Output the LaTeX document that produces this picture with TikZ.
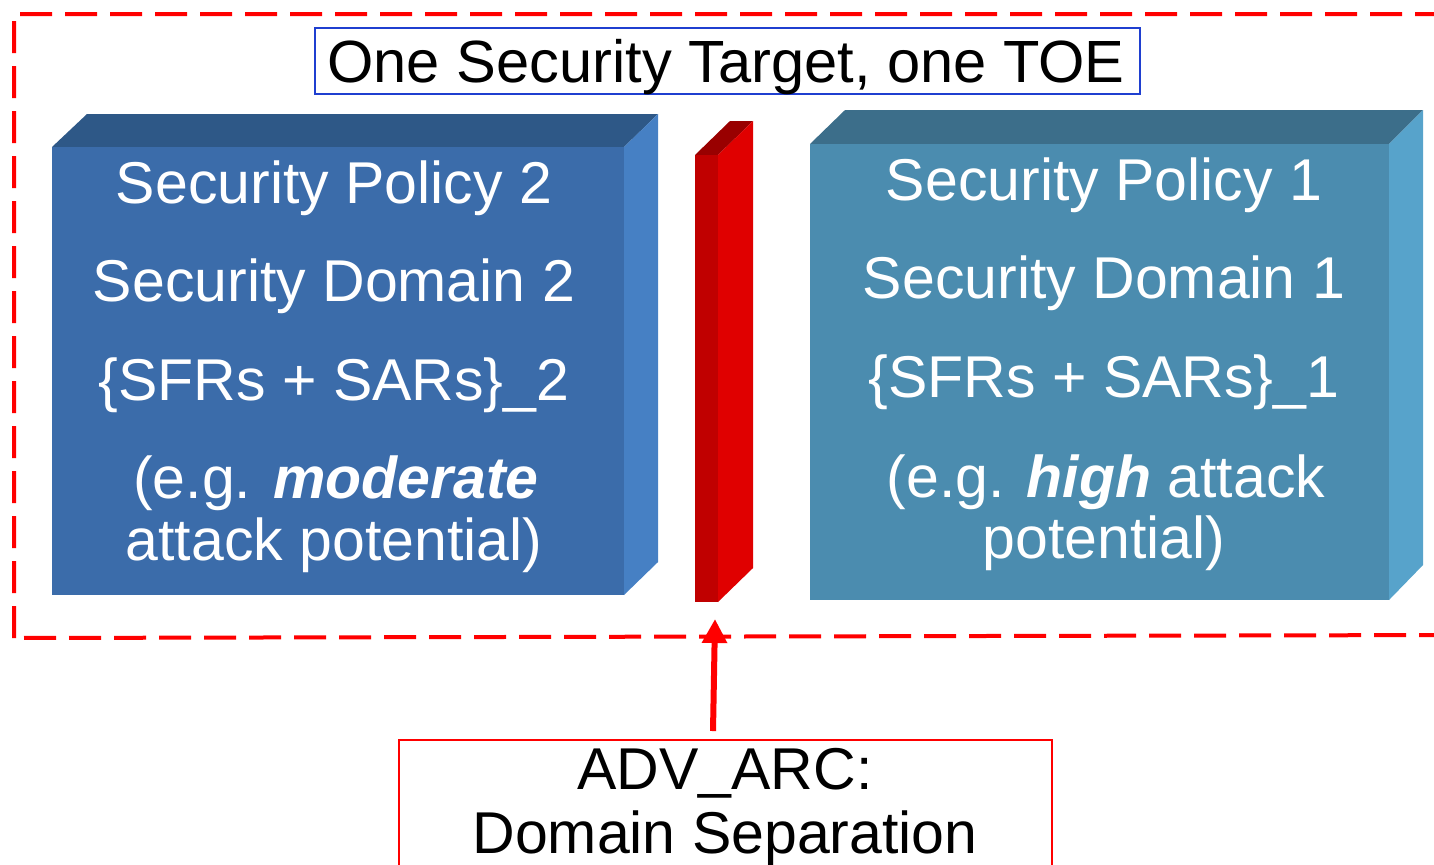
\documentclass[tikz,border=0pt]{standalone}
\usepackage{fontspec}
\setmainfont{Liberation Sans}
\usetikzlibrary{arrows.meta}
\definecolor{lfront}{HTML}{3B6CAA}
\definecolor{ltop}{HTML}{2E5887}
\definecolor{lside}{HTML}{4680C4}
\definecolor{rfront}{HTML}{4B8CAF}
\definecolor{rtop}{HTML}{3C6E8A}
\definecolor{rside}{HTML}{57A3CB}
\definecolor{wfront}{HTML}{C00000}
\definecolor{wside}{HTML}{E00000}
\definecolor{wtop}{HTML}{990000}
\definecolor{tblue}{HTML}{1F3FD0}
\definecolor{myred}{HTML}{FF0000}
\tikzset{
  big/.style={font=\fontsize{29.5}{31}\selectfont, inner sep=0pt, anchor=base},
  wtxt/.style={big, text=white},
  btxt/.style={big, text=black},
}
\begin{document}
\begin{tikzpicture}[x=0.5pt,y=-0.5pt]
\useasboundingbox (0,0) rectangle (1434,864);
\clip (0,0) rectangle (1434,864);
% dashed outer frame
\draw[myred, line width=2pt, dash pattern=on 16pt off 6.5pt] (14,638) -- (14,14) -- (1460,14) -- (1460,635) -- cycle;
% left block
\fill[ltop] (52,147) -- (87,114) -- (658,114) -- (624,147) -- cycle;
\fill[lside] (624,147) -- (658,114) -- (658,562) -- (624,595) -- cycle;
\fill[lfront] (52,147) rectangle (624,595);
% right block
\fill[rtop] (810,144) -- (845,110) -- (1423,110) -- (1389,144) -- cycle;
\fill[rside] (1389,144) -- (1423,110) -- (1423,565) -- (1389,600) -- cycle;
\fill[rfront] (810,144) rectangle (1389,600);
% red wall
\fill[wtop] (695,155) -- (730,121) -- (753,121) -- (718,155) -- cycle;
\fill[wside] (718,155) -- (753,121) -- (753,568) -- (718,602) -- cycle;
\fill[wfront] (695,155) rectangle (718,602);
% title
\node[draw=tblue, line width=1pt, minimum width=412.5pt, minimum height=33pt, inner sep=0pt] (title) at (727.5,61) {};
\node[btxt, font=\fontsize{29.8}{31}\selectfont] (titletext) at (726,82) {One Security Target, one TOE};
% left texts
\node[wtxt] (l1) at (334,203) {Security Policy 2};
\node[wtxt] (l2) at (334,301) {Security Domain 2};
\node[wtxt] (l3) at (334,400) {\{SFRs + SARs\}\_2};
\node[wtxt] (l4) at (336,498) {(e.g. \textbf{\textit{moderate}}};
\node[wtxt] (l5) at (334,560) {attack potential)};
% right texts
\node[wtxt] (r1) at (1104,200) {Security Policy 1};
\node[wtxt] (r2) at (1104,298) {Security Domain 1};
\node[wtxt] (r3) at (1104,397) {\{SFRs + SARs\}\_1};
\node[wtxt] (r4) at (1106,497) {(e.g. \textbf{\textit{high}} attack};
\node[wtxt] (r5) at (1104,558) {potential)};
% bottom box
\node[draw=myred, line width=1pt, minimum width=326.5pt, minimum height=100pt, inner sep=0pt, anchor=north] (advbox) at (725.5,739) {};
\node[btxt] (adv1) at (725,789) {ADV\raisebox{1.5pt}{\_}ARC:};
\node[btxt] (adv2) at (725,853) {Domain Separation};
% arrow
\coordinate (tip) at (715,619);
\coordinate (tail) at (713,731);
\draw[myred, line width=3pt, -{Triangle[length=12pt,width=12pt]}] (tail) -- (tip);
\end{tikzpicture}
\end{document}
